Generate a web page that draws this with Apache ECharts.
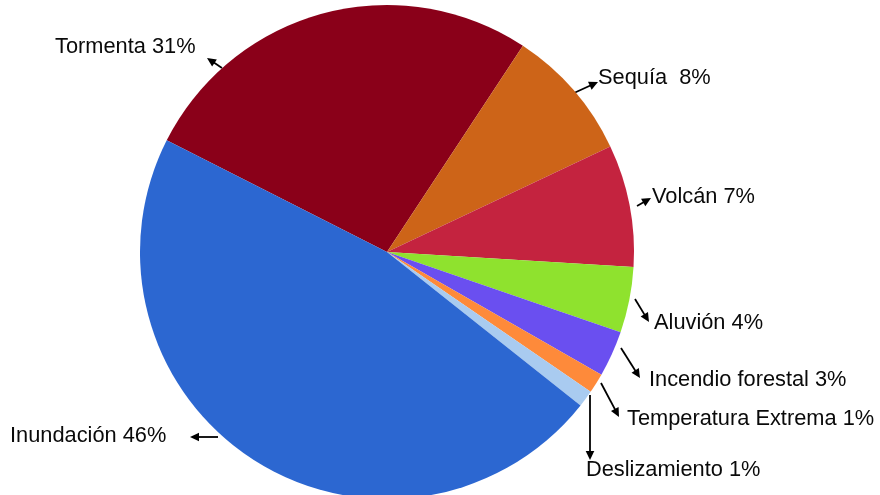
<!DOCTYPE html>
<html>
<head>
<meta charset="utf-8">
<script src="https://cdn.jsdelivr.net/npm/echarts@6/dist/echarts.min.js"></script>
<style>
  html, body { margin: 0; padding: 0; background: #fff; }
  #chart { width: 880px; height: 495px; }
</style>
</head>
<body>
<div id="chart"></div>
<script>
// ---- Data ----
const categories = ['Tormenta', 'Sequía ', 'Volcán', 'Aluvión', 'Incendio forestal', 'Temperatura Extrema', 'Deslizamiento', 'Inundación'];
// slice sizes as drawn in the reference (share of the circle)
const sliceValues = [26.8, 8.7, 8.0, 4.3, 3.0, 1.3, 1.1, 46.8];
// percentages printed in the labels
const labelPercents = ['31%', '8%', '7%', '4%', '3%', '1%', '1%', '46%'];
const sliceColors = ['#8a0019', '#cd6418', '#c4233f', '#8fe22e', '#6a4ff0', '#fe8a3a', '#a9cbf0', '#2c67d1'];

// ---- Label layout (styles / positions of annotations) ----
const labelPos = [
  { x: 55,  y: 47 },
  { x: 598, y: 78 },
  { x: 652, y: 197 },
  { x: 654, y: 323 },
  { x: 649, y: 380 },
  { x: 627, y: 419 },
  { x: 586, y: 470 },
  { x: 10,  y: 436 }
];
// arrow: tail (on pie) -> head (near label)
const arrows = [
  [[222, 68], [207, 58]],
  [[574, 93], [598, 82]],
  [[637, 206], [651, 198]],
  [[635, 299], [649, 322]],
  [[621, 348], [640, 378]],
  [[601, 383], [619, 417]],
  [[590, 395], [590, 460]],
  [[218, 437], [190, 437]]
];

const chart = echarts.init(document.getElementById('chart'), null, { renderer: 'canvas' });

function arrowHead(tail, head) {
  const dx = head[0] - tail[0], dy = head[1] - tail[1];
  const len = Math.sqrt(dx * dx + dy * dy);
  const ux = dx / len, uy = dy / len;
  const nx = -uy, ny = ux;
  const L = 9, W = 4.3;
  return [
    [head[0], head[1]],
    [head[0] - ux * L + nx * W, head[1] - uy * L + ny * W],
    [head[0] - ux * L - nx * W, head[1] - uy * L - ny * W]
  ];
}

const graphics = arrows.map(a => {
  const dx = a[1][0] - a[0][0], dy = a[1][1] - a[0][1];
  const len = Math.sqrt(dx * dx + dy * dy);
  return {
    type: 'group',
    children: [
      { type: 'line', shape: { x1: a[0][0], y1: a[0][1], x2: a[1][0] - dx / len * 6, y2: a[1][1] - dy / len * 6 },
        style: { stroke: '#000', lineWidth: 1.8 } },
      { type: 'polygon', shape: { points: arrowHead(a[0], a[1]) }, style: { fill: '#000' } }
    ]
  };
});

const option = {
  animation: false,
  backgroundColor: '#ffffff',
  graphic: graphics,
  series: [{
    type: 'pie',
    center: [387, 252],
    radius: 247,
    startAngle: 153.1,
    clockwise: true,
    avoidLabelOverlap: false,
    silent: true,
    data: categories.map((c, i) => ({
      name: c,
      value: sliceValues[i],
      itemStyle: { color: sliceColors[i] }
    })),
    itemStyle: { borderWidth: 0 },
    label: {
      show: true,
      position: 'outside',
      formatter: p => p.name + ' ' + labelPercents[p.dataIndex],
      fontFamily: 'Liberation Sans, Arial, sans-serif',
      fontSize: 21.8,
      color: '#0a0a0a'
    },
    labelLine: { show: false },
    labelLayout: function (params) {
      const lp = labelPos[params.dataIndex];
      return { x: lp.x, y: lp.y, align: 'left', verticalAlign: 'middle', hideOverlap: false };
    }
  }]
};
chart.setOption(option);
</script>
</body>
</html>
